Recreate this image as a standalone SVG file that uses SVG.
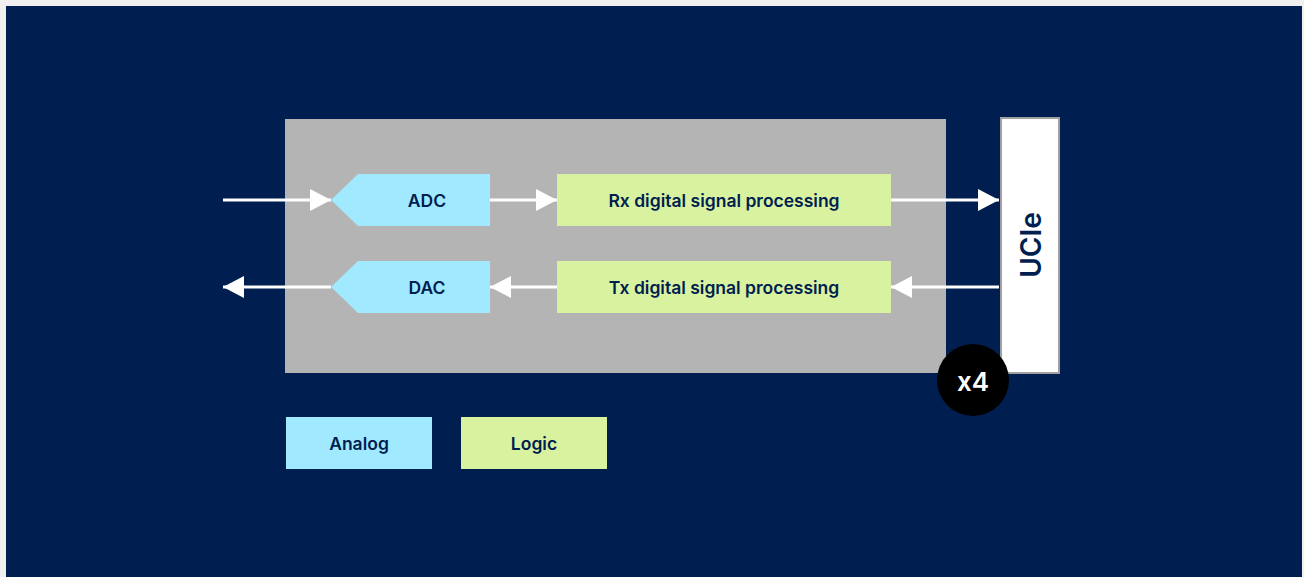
<svg xmlns="http://www.w3.org/2000/svg" width="1304" height="577" viewBox="0 0 1304 577">
<defs>
<style>
.lbl{font-family:Inter,"Liberation Sans",sans-serif;font-weight:600;font-size:17.5px;fill:#001E50;text-anchor:middle;dominant-baseline:central}
.an{fill:#A0E9FF}
.lg{fill:#D9F2A0}
.conn{stroke:#FFFFFF;stroke-width:3;fill:none}
</style>
<marker id="ah" viewBox="0 0 22 22" refX="21" refY="11" markerWidth="22" markerHeight="22" markerUnits="userSpaceOnUse" orient="auto">
<path d="M0,0 L21,11 L0,22 Z" fill="#FFFFFF"/>
</marker>
</defs>
<rect x="0" y="0" width="1304" height="577" fill="#F0F0F0"/>
<rect x="6" y="6" width="1296" height="571" fill="#001E50"/>
<g id="chip"><rect x="285" y="119" width="661" height="254" fill="#B4B4B4"/></g>
<g id="adc"><polygon class="an" points="331,200 358,174 490,174 490,226 358,226"/><text class="lbl" x="427" y="200">ADC</text></g>
<g id="dac"><polygon class="an" points="331,287 358,261 490,261 490,313 358,313"/><text class="lbl" x="427" y="287">DAC</text></g>
<g id="rx"><rect class="lg" x="557" y="174" width="334" height="52"/><text class="lbl" x="724" y="200">Rx digital signal processing</text></g>
<g id="tx"><rect class="lg" x="557" y="261" width="334" height="52"/><text class="lbl" x="724" y="287">Tx digital signal processing</text></g>
<g id="ucie"><rect x="1001" y="118" width="58" height="255" fill="#FFFFFF" stroke="#A0A0A0" stroke-width="2"/><text class="lbl" x="1031" y="245" style="font-size:28px;font-weight:600" transform="rotate(-90 1031 245)">UCIe</text></g>
<g id="x4"><circle cx="973" cy="380" r="36" fill="#000000"/><text x="973" y="381" font-family="Inter,'Liberation Sans',sans-serif" font-weight="600" font-size="26" fill="#FFFFFF" text-anchor="middle" dominant-baseline="central">x4</text></g>
<g id="legend-analog"><rect class="an" x="286" y="417" width="146" height="52"/><text class="lbl" x="359" y="443">Analog</text></g>
<g id="legend-logic"><rect class="lg" x="461" y="417" width="146" height="52"/><text class="lbl" x="534" y="443">Logic</text></g>
<g id="connectors">
<line class="conn" x1="223" y1="200" x2="331" y2="200" marker-end="url(#ah)"/>
<line class="conn" x1="490" y1="200" x2="557" y2="200" marker-end="url(#ah)"/>
<line class="conn" x1="891" y1="200" x2="999" y2="200" marker-end="url(#ah)"/>
<line class="conn" x1="999" y1="287" x2="891" y2="287" marker-end="url(#ah)"/>
<line class="conn" x1="557" y1="287" x2="490" y2="287" marker-end="url(#ah)"/>
<line class="conn" x1="331" y1="287" x2="223" y2="287" marker-end="url(#ah)"/>
</g>
</svg>
